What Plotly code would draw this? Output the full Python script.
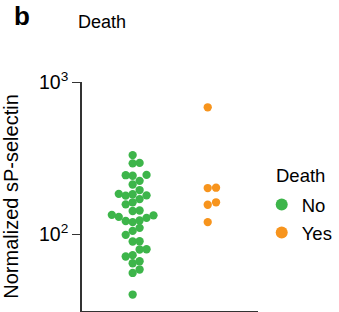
import numpy as np
import plotly.graph_objects as go

# ---- data ----
groups = ["No", "Yes"]
no_values = [331, 294, 292, 245, 242, 244, 212, 224, 195, 179, 180, 183, 170, 184,
             162, 157, 142, 143, 130, 133, 134, 122, 128, 120, 123, 105, 110, 99,
             89.5, 89.8, 79.3, 79.6, 72.8, 71.3, 64.4, 66.4, 58.6, 55.6, 40.1]
yes_values = [682, 202, 201, 162, 156, 120]
tick_vals = [100, 1000]
tick_text = ["10<sup>2</sup>", "10<sup>3</sup>"]

colors = {"No": "#3DB54A", "Yes": "#F7941D"}

# ---- layout geometry ----
W, H = 339, 312
ml, mr, mt, mb = 82, 67, 82, 1
plot_w = W - ml - mr
plot_h = H - mt - mb
xr = [-0.675, 1.67]
yr = [1.495, 3.0]
px_per_unit = plot_w / (xr[1] - xr[0])
px_per_decade = plot_h / (yr[1] - yr[0])


def swarm(values, step_px, diam_px):
    ys = np.log10(np.asarray(values, float)) * px_per_decade
    order = np.argsort(ys)
    placed = []
    off = np.zeros(len(ys))
    ks = [0]
    for k in range(1, 20):
        ks += [k, -k]
    for i in order:
        for k in ks:
            x = k * step_px
            if all((x - px) ** 2 + (ys[i] - py) ** 2 >= diam_px ** 2 for px, py in placed):
                break
        off[i] = x
        placed.append((x, ys[i]))
    return off / px_per_unit


fig = go.Figure()
for gi, (name, vals, step) in enumerate([("No", no_values, 7.5), ("Yes", yes_values, 9.0)]):
    xs = gi + swarm(vals, step, 7.3)
    fig.add_trace(go.Scatter(
        x=xs, y=vals, mode="markers", name=name, legendgroup=name,
        marker=dict(size=8.3, color=colors[name], line=dict(width=0)),
    ))

font = "Liberation Sans, Arial, Helvetica, sans-serif"
fig.update_layout(
    width=W, height=H,
    margin=dict(l=ml, r=mr, t=mt, b=mb),
    paper_bgcolor="white", plot_bgcolor="white",
    font=dict(family=font, color="black"),
    showlegend=True,
    legend=dict(x=(276 - ml) / plot_w, y=(H - mb - 186) / plot_h,
                xanchor="left", yanchor="top", font=dict(size=18.5),
                tracegroupgap=1, bgcolor="rgba(0,0,0,0)", itemsizing="constant"),
    xaxis=dict(range=xr, showgrid=False, zeroline=False, showticklabels=False,
               ticks="", showline=True, linecolor="#333333", linewidth=1.6),
    yaxis=dict(type="log", range=yr, showgrid=False, zeroline=False,
               tickvals=tick_vals, ticktext=tick_text, ticks="outside", ticklen=8,
               tickwidth=1.4, tickcolor="#333333", tickfont=dict(size=19.5),
               showline=True, linecolor="#333333", linewidth=1.6,
               title=dict(text="Normalized sP-selectin", font=dict(size=20), standoff=15)),
    annotations=[
        dict(text="<b>b</b>", x=(6 - ml) / plot_w, y=(H - mb - 16) / plot_h,
             xref="paper", yref="paper", xanchor="left", yanchor="middle",
             showarrow=False, font=dict(size=26)),
        dict(text="Death", x=(76 - ml) / plot_w, y=(H - mb - 22) / plot_h,
             xref="paper", yref="paper", xanchor="left", yanchor="middle",
             showarrow=False, font=dict(size=18)),
        dict(text="Death", x=(289 - ml) / plot_w, y=(H - mb - 175) / plot_h,
             xref="paper", yref="paper", xanchor="left", yanchor="middle",
             showarrow=False, font=dict(size=18.5)),
    ],
)
fig.write_html("out.html", config={"displayModeBar": False},
               post_script="document.body.style.margin='0';document.body.style.padding='0';")
